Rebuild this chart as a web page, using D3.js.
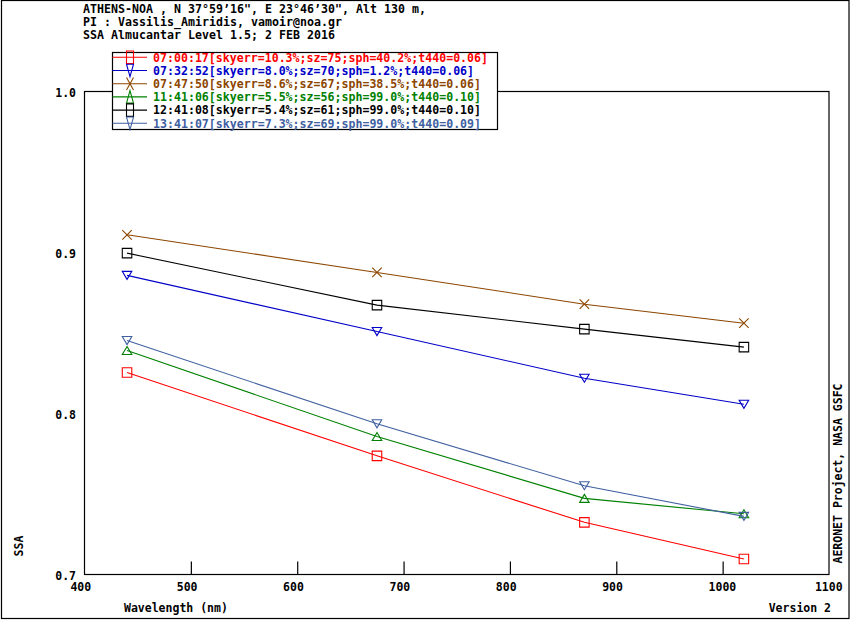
<!DOCTYPE html>
<html>
<head>
<meta charset="utf-8">
<script src="https://cdn.jsdelivr.net/npm/d3@7"></script>
<style>
  body { margin: 0; background: #fff; }
  text { font-family: "DejaVu Sans Mono", "Liberation Mono", monospace; font-weight: bold; }
</style>
</head>
<body>
<div id="chart"></div>
<script>
// Data
var wavelengths = [440, 675, 870, 1020];
var seriesNames = [
    "07:00:17[skyerr=10.3%;sz=75;sph=40.2%;t440=0.06]",
    "07:32:52[skyerr=8.0%;sz=70;sph=1.2%;t440=0.06]",
    "07:47:50[skyerr=8.6%;sz=67;sph=38.5%;t440=0.06]",
    "11:41:06[skyerr=5.5%;sz=56;sph=99.0%;t440=0.10]",
    "12:41:08[skyerr=5.4%;sz=61;sph=99.0%;t440=0.10]",
    "13:41:07[skyerr=7.3%;sz=69;sph=99.0%;t440=0.09]"
];
var ssa0700 = [0.8255, 0.7737, 0.7324, 0.7096];
var ssa0732 = [0.8858, 0.8509, 0.8219, 0.8057];
var ssa0747 = [0.9110, 0.8876, 0.8679, 0.8561];
var ssa1141 = [0.8391, 0.7857, 0.7473, 0.7377];
var ssa1241 = [0.8996, 0.8673, 0.8524, 0.8412];
var ssa1341 = [0.8453, 0.7936, 0.7551, 0.7361];
var xTicks = [400, 500, 600, 700, 800, 900, 1000, 1100];
var yTicks = [0.7, 0.8, 0.9, 1.0];
var headerLines = [
    "ATHENS-NOA , N 37\u00b059\u201916\", E 23\u00b046\u201930\", Alt 130 m,",
    "PI : Vassilis_Amiridis, vamoir@noa.gr",
    "SSA Almucantar Level 1.5; 2 FEB 2016"
];

var colors = ["#ff0000", "#0000c8", "#8c4600", "#008000", "#000000", "#4060a0"];
var symbols = ["square", "down", "x", "up", "square", "down"];
var seriesValues = [ssa0700, ssa0732, ssa0747, ssa1141, ssa1241, ssa1341];

var svgWidth = 850, svgHeight = 620;
var plot = { left: 84.5, top: 91.5, right: 829, bottom: 574.5 };
var charWidth = 7.0;

var svg = d3.select("#chart")
    .append("svg")
    .attr("width", svgWidth)
    .attr("height", svgHeight);

// outer frame
svg.append("rect")
    .attr("x", 1.5).attr("y", 0.5)
    .attr("width", 847.5).attr("height", 618)
    .attr("fill", "none").attr("stroke", "#000").attr("stroke-width", 1.2);

// scales
var xScale = d3.scaleLinear().domain([400, 1100]).range([plot.left, plot.right]);
var yScale = d3.scaleLinear().domain([0.7, 1.0]).range([plot.bottom, plot.top]);

// header (fixed character pitch like the original bitmap font)
svg.selectAll(".header")
    .data(headerLines)
    .enter()
    .append("text")
    .attr("x", 83)
    .attr("y", (d, i) => 12.5 + i * 13.3)
    .attr("font-size", "11.6px")
    .attr("textLength", d => d.length * charWidth)
    .attr("lengthAdjust", "spacing")
    .text(d => d);

// plot box
svg.append("rect")
    .attr("x", plot.left).attr("y", plot.top)
    .attr("width", plot.right - plot.left).attr("height", plot.bottom - plot.top)
    .attr("fill", "none").attr("stroke", "#000").attr("stroke-width", 1.2);

// x axis: inner ticks only, labels left-aligned a bit before the tick
var bottomAxis = d3.axisBottom(xScale)
    .tickValues(xTicks)
    .tickSizeInner(-13)
    .tickSizeOuter(0)
    .tickFormat(d3.format("d"));
var xAxis = svg.append("g")
    .attr("transform", `translate(0, ${plot.bottom})`)
    .call(bottomAxis);
xAxis.select(".domain").remove();
xAxis.selectAll(".tick line")
    .attr("stroke", "#000")
    .attr("stroke-width", 1.2)
    .filter(d => d == 400 || d == 1100).remove();
xAxis.selectAll(".tick text")
    .attr("text-anchor", "start")
    .attr("x", -14.6)
    .attr("y", 16.5)
    .attr("dy", null)
    .attr("fill", "#000")
    .attr("font-size", "11.5px")
    .attr("font-family", null);

// y axis: labels only
var leftAxis = d3.axisLeft(yScale)
    .tickValues(yTicks)
    .tickSize(0)
    .tickPadding(8.5)
    .tickFormat(d3.format(".1f"));
var yAxis = svg.append("g")
    .attr("transform", `translate(${plot.left}, 0)`)
    .call(leftAxis);
yAxis.select(".domain").remove();
yAxis.selectAll(".tick text")
    .attr("dy", "4.5")
    .attr("fill", "#000")
    .attr("font-size", "11.5px")
    .attr("font-family", null);

// axis titles
svg.append("text")
    .attr("x", 124).attr("y", 611.5)
    .attr("font-size", "11.5px")
    .text("Wavelength (nm)");
svg.append("text")
    .attr("x", 831).attr("y", 611.5)
    .attr("text-anchor", "end")
    .attr("font-size", "11.5px")
    .text("Version 2");
svg.append("text")
    .attr("transform", "translate(23, 546) rotate(-90)")
    .attr("text-anchor", "middle")
    .attr("font-size", "11.5px")
    .text("SSA");
svg.append("text")
    .attr("transform", "translate(842, 473.5) rotate(-90)")
    .attr("text-anchor", "middle")
    .attr("font-size", "11.5px")
    .text("AERONET Project, NASA GSFC");

// marker shapes (drawn as paths centred on 0,0)
function markerPath(kind, w, h) {
    var hw = w / 2, hh = h / 2;
    if (kind == "square") return `M${-hw},${-hh}H${hw}V${hh}H${-hw}Z`;
    if (kind == "up") return `M0,${-hh}L${hw},${hh}L${-hw},${hh}Z`;
    if (kind == "down") return `M${-hw},${-hh}L${hw},${-hh}L0,${hh}Z`;
    return `M${-hw},${-hh}L${hw},${hh}M${hw},${-hh}L${-hw},${hh}`;
}

var line = d3.line()
    .x((d, i) => xScale(wavelengths[i]))
    .y(d => yScale(d));

// lines and markers
var seriesGroup = svg.selectAll(".series")
    .data(seriesValues)
    .enter()
    .append("g")
    .attr("class", "series");

seriesGroup.append("path")
    .attr("d", d => line(d))
    .attr("fill", "none")
    .attr("stroke", (d, i) => colors[i])
    .attr("stroke-width", 1.1);

seriesGroup.each(function(vals, s) {
    d3.select(this).selectAll("path.marker")
        .data(vals)
        .enter()
        .append("path")
        .attr("class", "marker")
        .attr("transform", (d, i) => `translate(${xScale(wavelengths[i])}, ${yScale(d)})`)
        .attr("d", markerPath(symbols[s], 9.5, symbols[s] == "up" || symbols[s] == "down" ? 8 : 9.5))
        .attr("fill", "none")
        .attr("stroke", colors[s])
        .attr("stroke-width", 1.1);
});

// legend
var legendTop = 57.3, legendStep = 13.2;
svg.append("rect")
    .attr("x", 112.5).attr("y", 52.5)
    .attr("width", 385).attr("height", 77)
    .attr("fill", "#fff").attr("stroke", "#000").attr("stroke-width", 1.2);

var legend = svg.selectAll(".legend")
    .data(seriesNames)
    .enter()
    .append("g")
    .attr("class", "legend")
    .attr("transform", (d, i) => `translate(0, ${legendTop + i * legendStep})`);

legend.append("line")
    .attr("x1", 112.5).attr("x2", 147)
    .attr("stroke", (d, i) => colors[i])
    .attr("stroke-width", 1.1);

legend.append("path")
    .attr("transform", "translate(130, 0)")
    .attr("d", (d, i) => markerPath(symbols[i], 7, 12.5))
    .attr("fill", "none")
    .attr("stroke", (d, i) => colors[i])
    .attr("stroke-width", 1.1);

legend.append("text")
    .attr("x", 153)
    .attr("y", 4.3)
    .attr("font-size", "11.6px")
    .attr("fill", (d, i) => colors[i])
    .attr("textLength", d => d.length * 6.98)
    .attr("lengthAdjust", "spacing")
    .text(d => d);
</script>
</body>
</html>
